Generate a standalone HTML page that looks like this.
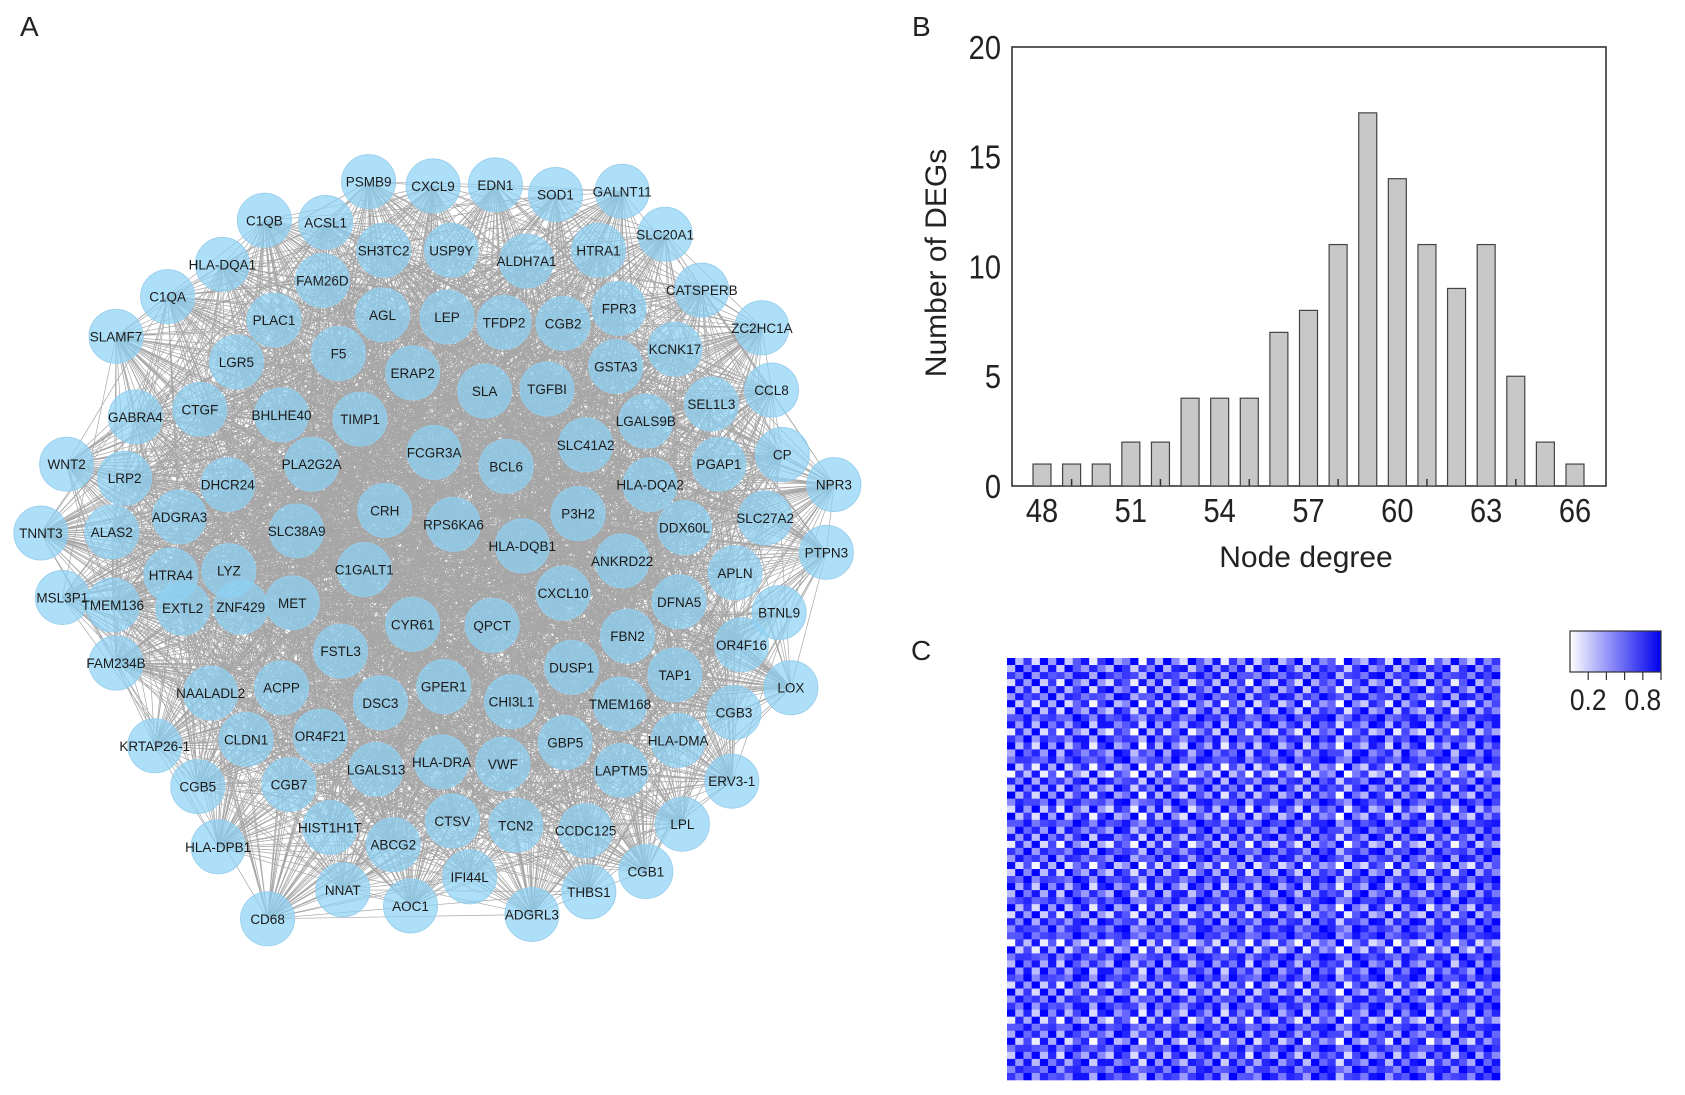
<!DOCTYPE html>
<html><head><meta charset="utf-8"><style>
html,body{margin:0;padding:0;background:#fff;}
body{width:1685px;height:1095px;overflow:hidden;position:relative;font-family:"Liberation Sans",sans-serif;}
svg{position:absolute;left:0;top:0;}
</style></head><body>
<svg id="root" width="1685" height="1095" viewBox="0 0 1685 1095">
  <text x="20" y="36" font-size="28" fill="#222">A</text>
  <text x="912" y="36" font-size="28" fill="#222">B</text>
  <text x="911" y="660" font-size="28" fill="#222">C</text>
  <g id="net"></g>
  <g id="bar"></g>
  <g id="heat"></g>
</svg>
<script>
const NS="http://www.w3.org/2000/svg";
function mk(tag,attrs,parent){const e=document.createElementNS(NS,tag);for(const k in attrs)e.setAttribute(k,attrs[k]);parent.appendChild(e);return e;}

// ---------- Bar chart data ----------
const degrees=[48,49,50,51,52,53,54,55,56,57,58,59,60,61,62,63,64,65,66];
const counts=[1,1,1,2,2,4,4,4,7,8,11,17,14,11,9,11,5,2,1];
const yTicks=[0,5,10,15,20];
const xTicks=[48,51,54,57,60,63,66];

(function(){
  const g=document.getElementById('bar');
  const L=1012,R=1606,T=47,B=486;
  const xs=d=>1042+(d-48)*(1575-1042)/18;
  const ys=v=>B-(v/20)*(B-T);
  const frame=mk('rect',{x:L,y:T,width:R-L,height:B-T,fill:'none',stroke:'#333','stroke-width':1.6},g);
  
  
  degrees.forEach((d,i)=>{
    const r=mk('rect',{x:xs(d)-9,y:ys(counts[i]),width:18,height:B-ys(counts[i]),fill:'#c8c8c8',stroke:'#444','stroke-width':1.2},g);
    
    
  });
  degrees.forEach(d=>{ if((d-49)%3===0){const t=mk('line',{x1:xs(d),x2:xs(d),y1:B,y2:B-7,stroke:'#333','stroke-width':1.5},g);
    
    }});
  yTicks.forEach(v=>{
    const t=mk('text',{x:1001,y:ys(v)+12,'font-size':33,'text-anchor':'end',fill:'#222',transform:`translate(${1001*0.12},0) scale(0.88,1)`},g);
    t.textContent=v;
    
    
  });
  xTicks.forEach(v=>{
    const t=mk('text',{x:xs(v)/0.88,y:522,'font-size':33,'text-anchor':'middle',fill:'#222',transform:'scale(0.88,1)'},g);
    t.textContent=v;
    
    
  });
  const yt=mk('text',{x:0,y:0,'font-size':30,'text-anchor':'middle',fill:'#222',transform:'translate(946,263) rotate(-90)'},g);
  yt.textContent='Number of DEGs';
  
  
  const xt=mk('text',{x:1306,y:567,'font-size':30,'text-anchor':'middle',fill:'#222'},g);
  xt.textContent='Node degree';
  
  
})();

// ---------- Heatmap data ----------
const geneLoadings=[0.9,0.3,0.7,0.2,0.85,0.4,0.95,0.25,0.6,0.8,0.15,0.7,0.9,0.35,0.5,0.95,0.1,0.75,0.3,0.88,
0.45,0.2,0.92,0.6,0.35,0.8,0.15,0.7,0.4,0.98,0.25,0.65,0.85,0.3,0.55,0.9,0.2,0.75,0.45,0.6,
0.1,0.95,0.5,0.3,0.8,0.65,0.2,0.9,0.4,0.7,0.85,0.15,0.6,0.35,0.95,0.5,0.25,0.8,0.45,0.7];
const colorbarTicks=['0.2','0.8'];

(function(){
  const g=document.getElementById('heat');
  const L=1007,R=1500,T=658,B=1080,n=geneLoadings.length;
  const cw=(R-L)/n,ch=(B-T)/n;
  const col=v=>{v=Math.max(0,Math.min(1,v));const c=Math.round(255*(1-v));return `rgb(${c},${c},255)`;};
  for(let i=0;i<n;i++)for(let j=0;j<n;j++){
    const v=i===j?1:1-Math.abs(geneLoadings[i]-geneLoadings[j])*1.3+0.05;
    const r=mk('rect',{x:(L+j*cw).toFixed(2),y:(T+i*ch).toFixed(2),width:(cw+0.3).toFixed(2),height:(ch+0.3).toFixed(2),fill:col(v)},g);
    
    
  }
  const defs=mk('defs',{},g);
  const lg=mk('linearGradient',{id:'cb',x1:0,x2:1,y1:0,y2:0},defs);
  mk('stop',{offset:0,'stop-color':'#fff'},lg);mk('stop',{offset:1,'stop-color':'#0000ee'},lg);
  const cb=mk('rect',{x:1570,y:631,width:91,height:41,fill:'url(#cb)',stroke:'#333','stroke-width':1.2},g);
  
  
  [0.2,0.4,0.6,0.8,1.0].forEach(v=>{const x=1570+v*91;const t=mk('line',{x1:x,x2:x,y1:672,y2:680,stroke:'#333','stroke-width':1.2},g);
    
    });
  colorbarTicks.forEach(s=>{const v=parseFloat(s);const t=mk('text',{x:(1570+v*91)/0.88,y:710,'font-size':30,'text-anchor':'middle',fill:'#222',transform:'scale(0.88,1)'},g);
    t.textContent=s;
    
    });
})();

// ---------- Network ----------
const nodeNames=["PSMB9","CXCL9","EDN1","SOD1","GALNT11","C1QB","ACSL1","SH3TC2","USP9Y","ALDH7A1","HTRA1","SLC20A1","HLA-DQA1","FAM26D","C1QA","CATSPERB","AGL","LEP","TFDP2","CGB2","FPR3","ZC2HC1A","SLAMF7","PLAC1","F5","ERAP2","KCNK17","LGR5","GSTA3","SLA","TGFBI","CCL8","GABRA4","CTGF","BHLHE40","TIMP1","SEL1L3","LGALS9B","WNT2","LRP2","PLA2G2A","FCGR3A","BCL6","SLC41A2","PGAP1","CP","NPR3","DHCR24","HLA-DQA2","CRH","RPS6KA6","P3H2","HLA-DQB1","TNNT3","ALAS2","ADGRA3","SLC38A9","DDX60L","SLC27A2","PTPN3","C1GALT1","ANKRD22","HTRA4","LYZ","APLN","MSL3P1","CXCL10","MET","DFNA5","BTNL9","TMEM136","EXTL2","ZNF429","CYR61","QPCT","OR4F16","FSTL3","FBN2","DUSP1","TAP1","LOX","FAM234B","NAALADL2","ACPP","GPER1","DSC3","CHI3L1","TMEM168","CGB3","CLDN1","OR4F21","HLA-DMA","KRTAP26-1","LGALS13","HLA-DRA","VWF","GBP5","LAPTM5","ERV3-1","CGB5","CGB7","CTSV","TCN2","CCDC125","LPL","HIST1H1T","ABCG2","HLA-DPB1","CGB1","IFI44L","NNAT","THBS1","AOC1","ADGRL3","CD68"];
const nodeX=[343,403,461,517,579,246,303,357,420,490,557,619,207,300,156,653,356,416,469,524,576,709,108,255,315,384,628,220,573,451,509,718,126,186,262,335,662,601,62,116,290,404,471,545,669,728,776,212,605,358,422,538,486,38,104,167,276,637,712,769,339,579,159,213,684,58,524,272,632,725,105,170,224,384,458,690,317,584,532,628,736,108,196,262,413,354,476,577,683,229,298,631,144,350,411,468,526,578,681,184,269,421,480,545,635,307,366,203,601,437,319,548,382,495,249];
const nodeY=[169,173,172,181,178,205,207,233,233,243,233,218,246,261,276,270,293,295,300,301,287,305,313,298,329,347,325,337,341,364,362,363,388,381,386,390,376,392,432,445,432,421,434,414,432,423,451,451,451,475,488,478,508,496,495,481,494,491,482,514,530,522,535,531,533,556,552,561,560,570,563,566,565,581,582,600,606,592,621,628,640,617,645,640,639,654,653,655,663,688,685,689,694,716,709,711,691,717,727,732,730,764,768,773,767,770,786,788,811,816,828,830,843,851,855];

(function(){
  const g=document.getElementById('net');
  const S=1.0746,n=nodeNames.length;
  const X=i=>nodeX[i]*S, Y=i=>nodeY[i]*S;
  let d='';
  for(let i=0;i<n;i++)for(let j=i+1;j<n;j++){
    if(((i*31+j*17+i*j)%100)<48) d+=`M${X(i).toFixed(1)} ${Y(i).toFixed(1)}L${X(j).toFixed(1)} ${Y(j).toFixed(1)}`;
  }
  const p=mk('path',{d:d,stroke:'#6a6a6a','stroke-width':0.7,'stroke-opacity':0.6,fill:'none'},g);
  
  
  for(let i=0;i<n;i++){
    const ng=mk('g',{},g);
    
    
    mk('circle',{cx:X(i),cy:Y(i),r:27,fill:'rgba(140,210,245,0.7)',stroke:'rgba(150,205,235,0.9)','stroke-width':1},ng);
    const t=mk('text',{x:X(i),y:Y(i)+5,'font-size':13.5,'text-anchor':'middle',fill:'#1a1a1a'},ng);
    t.textContent=nodeNames[i];
  }
})();
</script>
</body></html>
